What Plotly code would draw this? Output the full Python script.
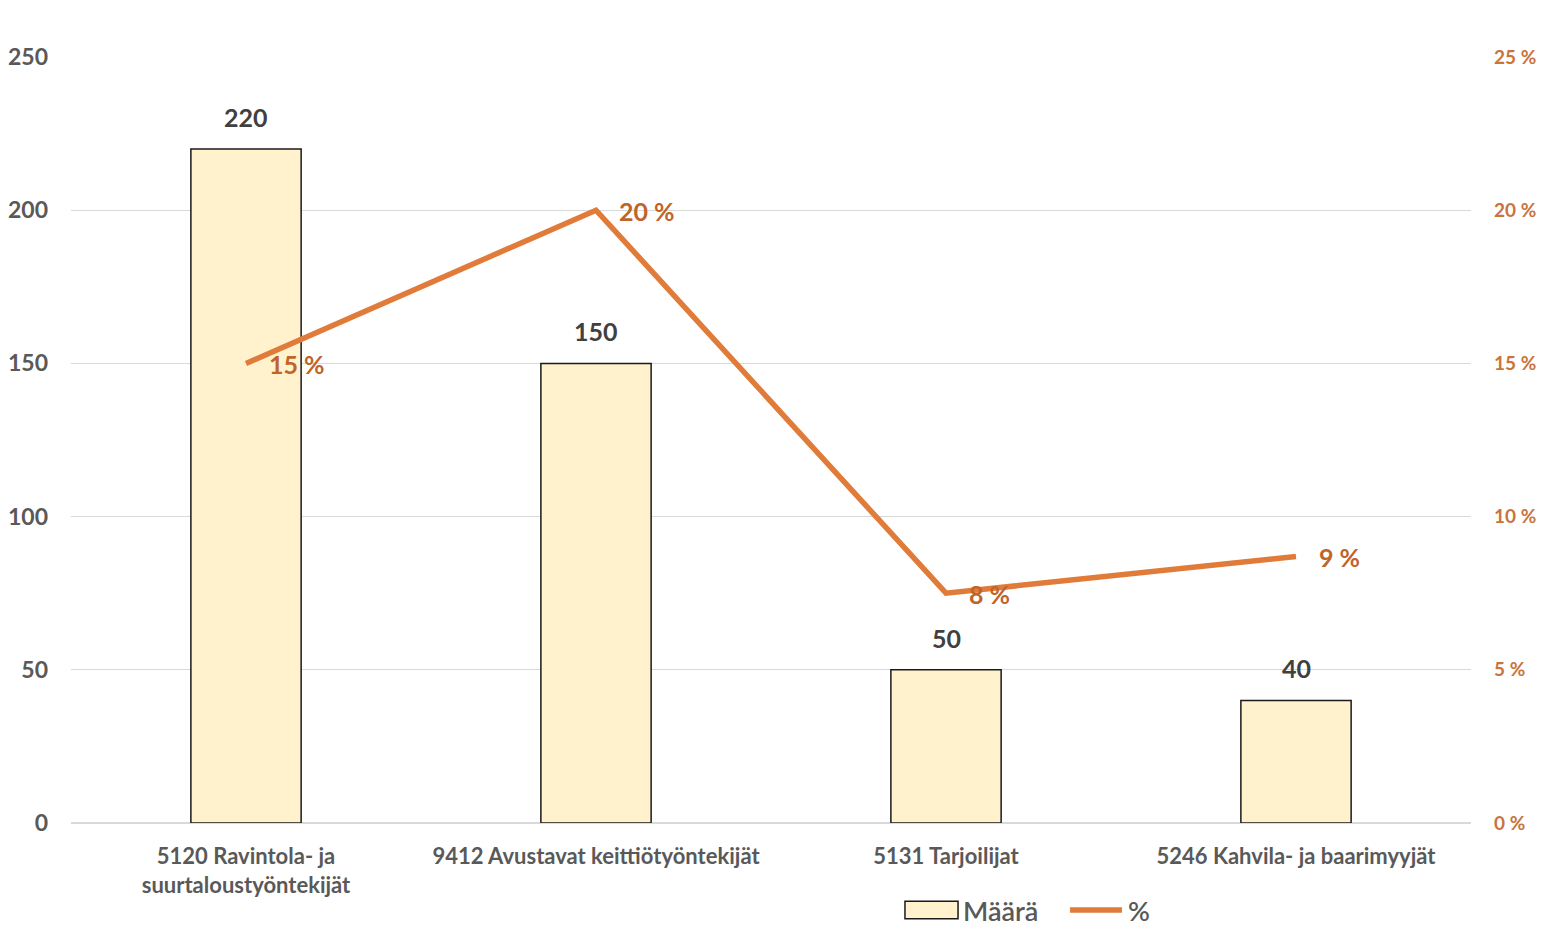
import plotly.graph_objects as go

categories = ["5120 Ravintola- ja<br>suurtaloustyöntekijät", "9412 Avustavat keittiötyöntekijät",
              "5131 Tarjoilijat", "5246 Kahvila- ja baarimyyjät"]
maara = [220, 150, 50, 40]
pct = [15.0, 20.0, 7.5, 8.7]
pct_labels = ["15 %", "20 %", "8 %", "9 %"]
left_ticks = [0, 50, 100, 150, 200, 250]
right_ticks = [0, 5, 10, 15, 20, 25]
right_tick_labels = ["0 %", "5 %", "10 %", "15 %", "20 %", "25 %"]

FONT = "Lato"
LINE_C = "#E07B39"
LABEL_C = "#C0642A"
GRAY = "#595959"

fig = go.Figure()
fig.add_trace(go.Bar(
    x=categories, y=maara, name="Määrä",
    marker=dict(color="#FFF2CC", line=dict(color="#1a1a1a", width=1.5)),
    width=0.315, showlegend=False,
))
fig.add_trace(go.Scatter(
    x=categories, y=pct, name="%", yaxis="y2", mode="lines",
    line=dict(color=LINE_C, width=5.5), showlegend=False,
    cliponaxis=False,
))

# bar value labels
for c, v in zip(categories, maara):
    fig.add_annotation(x=c, y=v, text=str(v), showarrow=False, yanchor="bottom",
                       yshift=15, font=dict(family=FONT, size=25, color="#404040", weight="bold"))
# line value labels
for c, p, t in zip(categories, pct, pct_labels):
    fig.add_annotation(x=c, y=p, yref="y2", text=t, showarrow=False, xanchor="left",
                       yanchor="middle", xshift=21, yshift=-1,
                       font=dict(family=FONT, size=25, color=LABEL_C, weight="bold"))

# legend (drawn)
LY = -0.1136
fig.add_shape(type="rect", xref="paper", yref="paper", x0=0.5957, x1=0.6336, y0=LY + 0.0115, y1=LY - 0.0115,
              fillcolor="#FFF2CC", line=dict(color="#1a1a1a", width=1.5))
fig.add_annotation(xref="paper", yref="paper", x=0.6355, y=LY, text="Määrä", showarrow=False,
                   xanchor="left", yanchor="middle", height=28,
                   font=dict(family=FONT, size=27, color=GRAY, weight=600))
fig.add_shape(type="line", xref="paper", yref="paper", x0=0.7136, x1=0.7507, y0=LY, y1=LY,
              line=dict(color=LINE_C, width=5.5))
fig.add_annotation(xref="paper", yref="paper", x=0.7535, y=LY, text="%", showarrow=False,
                   xanchor="left", yanchor="middle", height=28,
                   font=dict(family=FONT, size=27, color=GRAY, weight=600))

fig.update_layout(
    width=1536, height=918,
    margin=dict(l=63, r=73, t=49, b=103, autoexpand=False),
    plot_bgcolor="white", paper_bgcolor="white",
    showlegend=False,
    xaxis=dict(tickfont=dict(family=FONT, size=22, color=GRAY, weight="bold"),
               showgrid=False, showline=False, ticks="", ticklabelstandoff=18, automargin=False),
    yaxis=dict(range=[0, 250], tickvals=left_ticks, showgrid=True, gridcolor="#D9D9D9",
               gridwidth=1, zeroline=True, zerolinecolor="#D9D9D9", zerolinewidth=1.5,
               tickfont=dict(family=FONT, size=23, color=GRAY, weight="bold"),
               ticklabelstandoff=22, automargin=False),
    yaxis2=dict(range=[0, 25], tickvals=right_ticks, ticktext=right_tick_labels,
                overlaying="y", side="right", showgrid=False, zeroline=False,
                tickfont=dict(family=FONT, size=19, color="#C8743C", weight="bold"),
                ticklabelstandoff=22, automargin=False),
)
fig.write_html("out.html")
